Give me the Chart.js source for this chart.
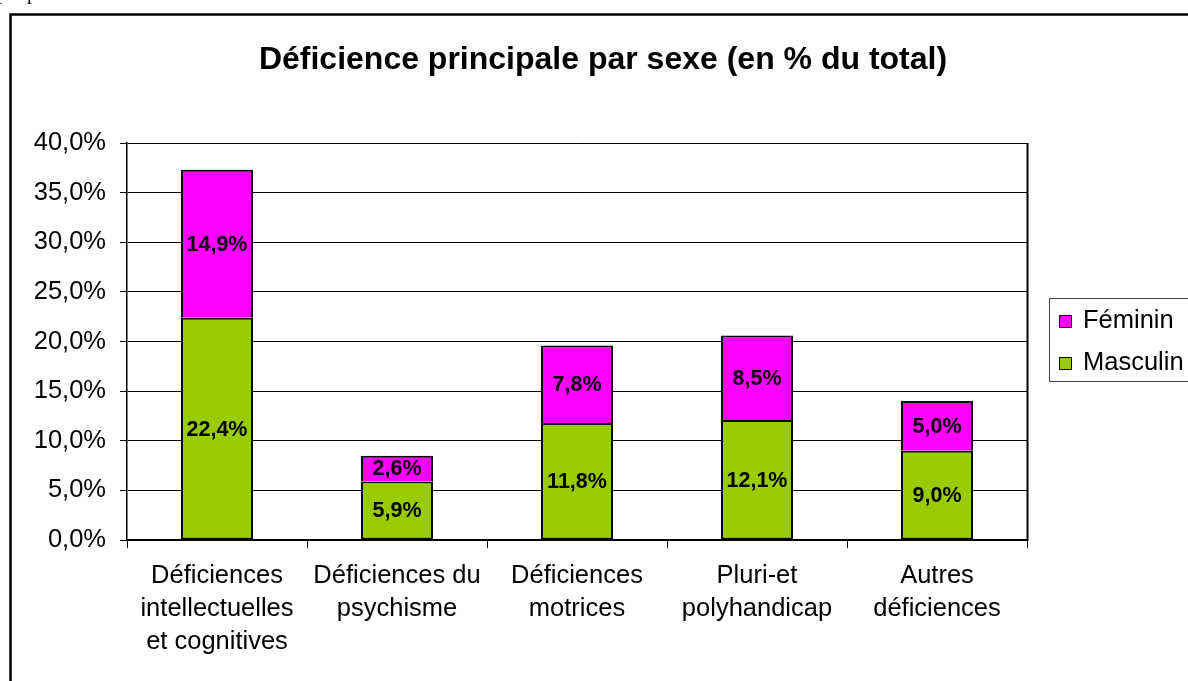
<!DOCTYPE html>
<html lang="fr">
<head>
<meta charset="UTF-8">
<title>Déficience principale par sexe</title>
<script src="https://cdn.jsdelivr.net/npm/chart.js"></script>
<style>
  body { margin: 0; background: #fff; overflow: hidden; }
  #wrap { position: relative; width: 1188px; height: 681px; }
  #chart { position: absolute; left: 0; top: 0; }
  .pp { position: absolute; top: -18px; font: 20px 'Liberation Serif', 'Times New Roman', serif; line-height: 20px; }
</style>
</head>
<body>
<div id="wrap">
  <canvas id="chart" width="1188" height="681"></canvas>
  <span class="pp" style="left:-3px">p</span>
  <span class="pp" style="left:27px">p</span>
</div>
<script>
  const title = 'Déficience principale par sexe (en % du total)';
  const categories = [
    ['Déficiences', 'intellectuelles', 'et cognitives'],
    ['Déficiences du', 'psychisme'],
    ['Déficiences', 'motrices'],
    ['Pluri-et', 'polyhandicap'],
    ['Autres', 'déficiences']
  ];
  const masculin = [22.4, 5.9, 11.8, 12.1, 9.0];
  const feminin = [14.9, 2.6, 7.8, 8.5, 5.0];
  const yMin = 0, yMax = 40, yStep = 5;

  const FONT = "'Liberation Sans', Arial, sans-serif";
  const fmt = v => v.toFixed(1).replace('.', ',') + '%';

  // frame, title, value labels and legend
  const decor = {
    id: 'decor',
    beforeDraw(chart) {
      const ctx = chart.ctx;
      ctx.save();
      ctx.fillStyle = '#fff';
      ctx.fillRect(0, 0, chart.width, chart.height);
      ctx.restore();
    },
    afterDatasetsDraw(chart) {
      const ctx = chart.ctx;
      ctx.save();
      ctx.font = 'bold 21.5px ' + FONT;
      ctx.fillStyle = '#000';
      ctx.textAlign = 'center';
      ctx.textBaseline = 'middle';
      chart.data.datasets.forEach((ds, i) => {
        chart.getDatasetMeta(i).data.forEach((el, j) => {
          const y = (el.y + el.base) / 2;
          ctx.fillText(fmt(ds.data[j]), el.x, y + 1);
        });
      });
      ctx.restore();
    },
    afterDraw(chart) {
      const ctx = chart.ctx, a = chart.chartArea;
      ctx.save();
      // right edge of plot area
      ctx.strokeStyle = '#000';
      ctx.lineWidth = 2;
      ctx.beginPath();
      ctx.moveTo(a.right + 0.5, a.top);
      ctx.lineTo(a.right + 0.5, a.bottom + 1);
      ctx.stroke();

      // outer frame (runs off the page on right and bottom)
      ctx.lineWidth = 2.5;
      ctx.strokeRect(10.5, 14.5, 1300, 800);

      // title
      ctx.fillStyle = '#000';
      ctx.font = 'bold 32px ' + FONT;
      ctx.textAlign = 'center';
      ctx.textBaseline = 'middle';
      ctx.fillText(title, 603, 60);

      // legend
      ctx.lineWidth = 1;
      ctx.strokeStyle = '#444';
      ctx.strokeRect(1049.5, 298.5, 200, 83);
      const items = [chart.data.datasets[1], chart.data.datasets[0]];
      ctx.font = '25.5px ' + FONT;
      ctx.textAlign = 'left';
      items.forEach((ds, i) => {
        const y = 315 + i * 42;
        ctx.fillStyle = ds.backgroundColor;
        ctx.fillRect(1059.5, y + 0.5, 12, 12);
        ctx.strokeStyle = '#000';
        ctx.strokeRect(1059.5, y + 0.5, 12, 12);
        ctx.fillStyle = '#000';
        ctx.fillText(ds.label, 1083, y + 6);
      });
      ctx.restore();
    }
  };

  new Chart(document.getElementById('chart'), {
    type: 'bar',
    data: {
      labels: categories,
      datasets: [
        { label: 'Masculin', data: masculin, backgroundColor: '#99CC00', borderColor: '#000', borderWidth: 2, borderSkipped: false, barPercentage: 0.4, categoryPercentage: 1 },
        { label: 'Féminin', data: feminin, backgroundColor: '#FF00FF', borderColor: '#000', borderWidth: 2, borderSkipped: 'start', barPercentage: 0.4, categoryPercentage: 1 }
      ]
    },
    options: {
      responsive: false,
      animation: false,
      devicePixelRatio: 1,
      layout: { padding: { top: 143, right: 161, left: 0, bottom: 0 } },
      plugins: { legend: { display: false }, title: { display: false }, tooltip: { enabled: false } },
      scales: {
        x: {
          stacked: true,
          grid: { offset: true, drawOnChartArea: false, drawTicks: true, tickLength: 8, color: '#000', lineWidth: 1 },
          border: { color: '#000', width: 1.5 },
          ticks: { color: '#000', font: { family: FONT, size: 25.5, lineHeight: 1.3 }, padding: 11, maxRotation: 0, autoSkip: false },
          afterFit(scale) { scale.height = 141; }
        },
        y: {
          stacked: true,
          min: yMin, max: yMax,
          grid: { color: '#000', lineWidth: 1, tickLength: 7, drawTicks: true },
          border: { color: '#000', width: 1.5 },
          ticks: { stepSize: yStep, color: '#000', font: { family: FONT, size: 25.5 }, padding: 14, callback: v => fmt(v) },
          afterFit(scale) { scale.width = 127; }
        }
      }
    },
    plugins: [decor]
  });
</script>
</body>
</html>
